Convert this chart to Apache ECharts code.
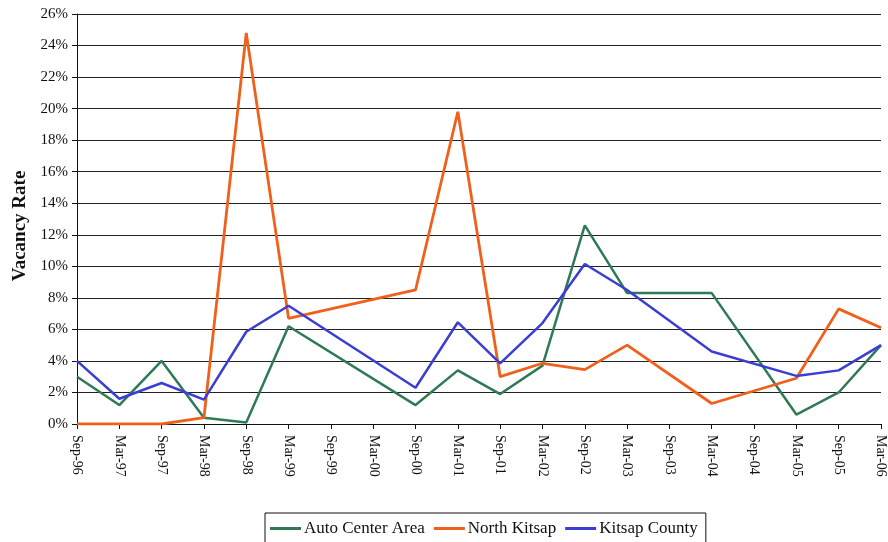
<!DOCTYPE html>
<html>
<head>
<meta charset="utf-8">
<script src="https://cdn.jsdelivr.net/npm/echarts@6/dist/echarts.min.js"></script>
<style>
  html, body { margin: 0; padding: 0; background: #fff; }
  #chart { width: 888px; height: 542px; }
</style>
</head>
<body>
<div id="chart"></div>
<script>
// Semi-annual survey periods
const periods = ['Sep-96', 'Mar-97', 'Sep-97', 'Mar-98', 'Sep-98', 'Mar-99', 'Sep-99', 'Mar-00',
  'Sep-00', 'Mar-01', 'Sep-01', 'Mar-02', 'Sep-02', 'Mar-03', 'Sep-03', 'Mar-04',
  'Sep-04', 'Mar-05', 'Sep-05', 'Mar-06'];

// Vacancy rates in percent; null = no survey for that period (line bridges the gap)
const autoCenterArea = [3.0, 1.2, 4.0, 0.4, 0.1, 6.2, null, null,
  1.2, 3.4, 1.9, 3.7, 12.6, 8.3, null, 8.3,
  null, 0.6, 2.0, 5.0];
const northKitsap = [0.0, 0.0, 0.0, 0.4, 24.8, 6.7, null, null,
  8.5, 19.8, 3.0, 3.85, 3.45, 5.0, null, 1.3,
  null, 2.9, 7.3, 6.1];
const kitsapCounty = [4.0, 1.6, 2.6, 1.55, 5.85, 7.5, null, null,
  2.3, 6.45, 3.85, 6.4, 10.15, 8.5, null, 4.6,
  null, 3.05, 3.4, 5.0];

const yTicks = { min: 0, max: 26, step: 2 };

const serif = '"Liberation Serif", "DejaVu Serif", serif';

function lineSeries(name, data, color, width) {
  return {
    name: name,
    type: 'line',
    data: data,
    symbol: 'none',
    connectNulls: true,
    lineStyle: { color: color, width: width },
    itemStyle: { color: color },
    animation: false
  };
}

const chart = echarts.init(document.getElementById('chart'), null, { renderer: 'canvas' });
chart.setOption({
  backgroundColor: '#ffffff',
  animation: false,
  grid: { left: 77, right: 3, top: 14, bottom: 118 },
  xAxis: {
    type: 'category',
    data: periods,
    boundaryGap: false,
    axisLine: { lineStyle: { color: '#111', width: 1 } },
    axisTick: { show: true, alignWithLabel: true, length: 5, inside: false, lineStyle: { color: '#111' } },
    axisLabel: {
      rotate: -90,
      interval: 0,
      margin: 11,
      color: '#111',
      fontFamily: serif,
      fontSize: 14
    },
    splitLine: { show: false }
  },
  yAxis: {
    type: 'value',
    min: yTicks.min,
    max: yTicks.max,
    interval: yTicks.step,
    name: 'Vacancy Rate',
    nameLocation: 'middle',
    nameGap: 47,
    nameRotate: 90,
    nameTextStyle: {
      fontFamily: serif, fontSize: 19, fontWeight: 'bold', color: '#111',
      padding: [0, 14, 0, 0]
    },
    axisLine: { show: true, lineStyle: { color: '#111', width: 1 } },
    axisTick: { show: true, length: 5, lineStyle: { color: '#111' } },
    axisLabel: {
      formatter: v => v + '%',
      color: '#111',
      fontFamily: serif,
      fontSize: 15,
      margin: 9
    },
    splitLine: { show: true, lineStyle: { color: '#222', width: 1 } }
  },
  legend: {
    left: 265,
    top: 513,
    orient: 'horizontal',
    icon: 'rect',
    itemWidth: 31,
    itemHeight: 3,
    itemGap: 9,
    padding: [7, 8, 14, 5],
    borderColor: '#111',
    borderWidth: 1,
    backgroundColor: '#fff',
    textStyle: { fontFamily: serif, fontSize: 17, color: '#111', padding: [0, 0, 0, -2] },
    data: ['Auto Center Area', 'North Kitsap', 'Kitsap County']
  },
  series: [
    lineSeries('Auto Center Area', autoCenterArea, '#2f7a55', 2.5),
    lineSeries('North Kitsap', northKitsap, '#f0601a', 2.8),
    lineSeries('Kitsap County', kitsapCounty, '#3a3ed2', 2.5)
  ]
});
</script>
</body>
</html>
